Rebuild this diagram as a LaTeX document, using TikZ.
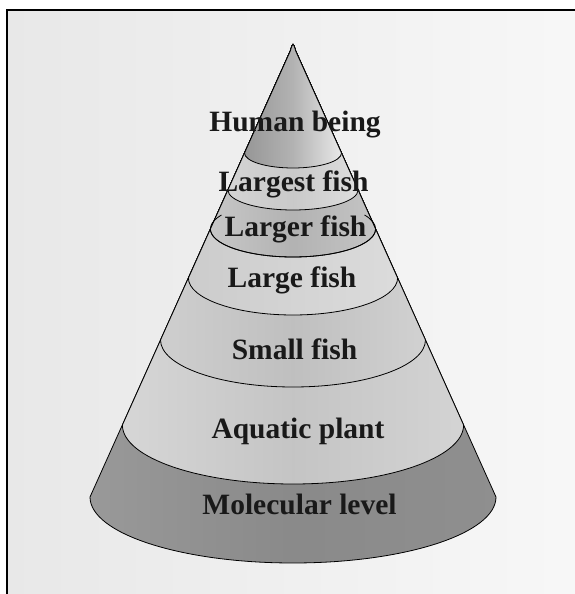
\documentclass[tikz,border=0pt]{standalone}
\usepackage{fontspec}
\setmainfont{Liberation Serif}
\usepackage{tikz}
\newcommand{\conepart}[3]{(293-#2,#1) -- (290.3,543) .. controls (293,552) .. (295.7,543) -- (293+#2,#1) arc[start angle=0,end angle=-180,x radius=#2,y radius=#3] -- cycle}
\tikzset{
  layer/.style={draw=black,line width=0.8pt,line join=round},
  lbl/.style={font=\fontsize{29.5}{34}\selectfont\bfseries,anchor=base,inner sep=0pt,text=black!90}
}

\begin{document}
\begin{tikzpicture}[x=1pt,y=1pt]
  \useasboundingbox (0,0) rectangle (575,594);
  \fill[white] (0,0) rectangle (575,594);
  \fill[left color=black!9,right color=black!3] (7,0) rectangle (575,584);
  \draw[line width=2pt] (7,0) -- (7,584) -- (575,584);
  % bands, bottom first
  \draw[layer,left color=black!40,right color=black!44,middle color=black!46] \conepart{97}{203}{66};
  \draw[layer,left color=black!16,right color=black!17,middle color=black!23] \conepart{169}{170.6}{59};
  \draw[layer,left color=black!19,right color=black!18,middle color=black!25] \conepart{254}{132.5}{47};
  \draw[layer,left color=black!20,right color=black!14,middle color=black!17] \conepart{316}{104.6}{37};
  \draw[layer,left color=black!22,right color=black!23,middle color=black!30] \conepart{365}{82.6}{28};
  \draw[layer,left color=black!17,right color=black!13,middle color=black!21] \conepart{404}{65.1}{20};
  \draw[layer,left color=black!41,right color=black!9,middle color=black!30] \conepart{441}{48.5}{15};
  \draw[layer] (293,365) ++(150:82.6 and 28) arc[start angle=150,end angle=390,x radius=82.6,y radius=28];
  % labels
  \node[lbl] (human) at (295,462.3) {Human being};
  \node[lbl] (largest) at (293.5,402.3) {Largest fish};
  \node[lbl] (larger) at (295.5,357.3) {Larger fish};
  \node[lbl] (large) at (292,306.7) {Large fish};
  \node[lbl] (small) at (294.5,234.7) {Small fish};
  \node[lbl] (aquatic) at (298,155.7) {Aquatic plant};
  \node[lbl] (molecular) at (299.5,79) {Molecular level};
\end{tikzpicture}
\end{document}
